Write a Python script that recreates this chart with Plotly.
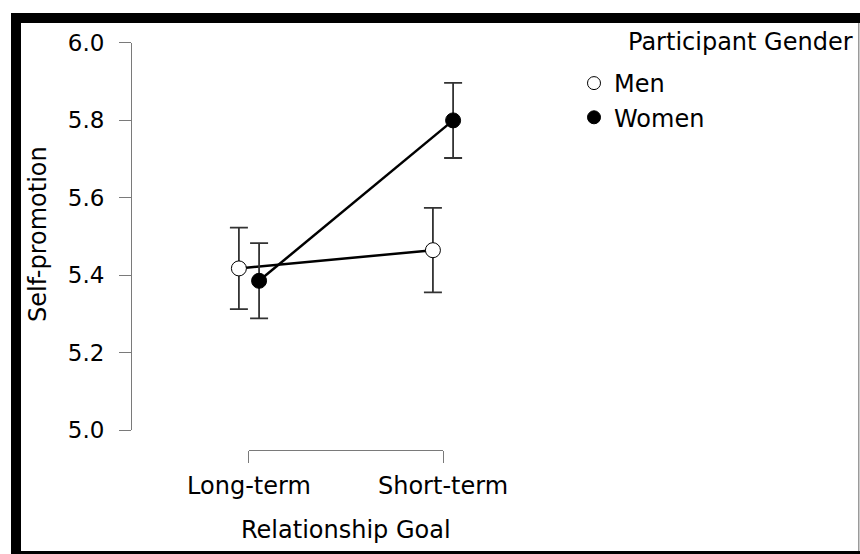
import plotly.graph_objects as go

# Cell means and error-bar half-widths for self-promotion
goals = ["Long-term", "Short-term"]
genders = ["Men", "Women"]
men_mean = [5.417, 5.464]
men_err = [0.105, 0.109]
women_mean = [5.385, 5.799]
women_err = [0.097, 0.097]
y_ticks = [5.0, 5.2, 5.4, 5.6, 5.8, 6.0]

W, H = 860, 554
FONT = "DejaVu Sans"
FS_NUM = 23
FS = 24

# plot area in pixels
px_left, px_right = 132, 560
py_top, py_bottom = 42.5, 430
x_range = [-0.603, 1.603]
dodge = 0.052

x_dom = [px_left / W, px_right / W]
y_dom = [1 - py_bottom / H, 1 - py_top / H]


def x_to_paper(v):
    return x_dom[0] + (v - x_range[0]) / (x_range[1] - x_range[0]) * (x_dom[1] - x_dom[0])


idx = list(range(len(goals)))

fig = go.Figure()

series = [
    ("Men", men_mean, men_err, "white", -dodge),
    ("Women", women_mean, women_err, "black", dodge),
]
for name, mean, err, fill, off in series:
    fig.add_trace(go.Scatter(
        x=[i + off for i in idx], y=mean, mode="lines+markers", name=name,
        showlegend=False, cliponaxis=False,
        line=dict(color="black", width=2.5),
        marker=dict(size=15, color=fill, line=dict(color="black", width=1)),
        error_y=dict(type="data", array=err, visible=True, color="#333333",
                     thickness=1.8, width=9),
    ))

# legend entries show markers only
for name, mean, err, fill, off in series:
    fig.add_trace(go.Scatter(
        x=[None], y=[None], mode="markers", name=name,
        marker=dict(size=13, color=fill, line=dict(color="black", width=1)),
    ))

# empty trace so the category axis (x2) gets drawn
fig.add_trace(go.Scatter(x=[None], y=[None], xaxis="x2", yaxis="y",
                         mode="markers", showlegend=False, hoverinfo="skip"))

shapes = []
# outer frame
frame_rects = [
    (11, 13, 21, 554, "black"),
    (11, 13, 860, 23, "black"),
    (11, 551, 860, 554, "black"),
    (858, 23, 859.5, 551, "#9a9a9a"),
]
for x0, y0, x1, y1, c in frame_rects:
    shapes.append(dict(type="rect", xref="paper", yref="paper",
                       x0=x0 / W, x1=x1 / W, y0=1 - y0 / H, y1=1 - y1 / H,
                       fillcolor=c, line=dict(width=0), layer="above"))

fig.update_layout(
    width=W, height=H,
    margin=dict(l=0, r=0, t=0, b=0, autoexpand=False),
    paper_bgcolor="white", plot_bgcolor="rgba(0,0,0,0)",
    font=dict(family=FONT, size=FS, color="black"),
    xaxis=dict(domain=x_dom, range=x_range, visible=False, fixedrange=True),
    xaxis2=dict(
        domain=[x_to_paper(idx[0]), x_to_paper(idx[-1])],
        range=[idx[0], idx[-1]], anchor="free", position=1 - 450 / H,
        showline=True, linecolor="#7a7a7a", linewidth=1,
        ticks="outside", ticklen=12, tickcolor="#7a7a7a", tickwidth=1,
        tickvals=idx, ticktext=goals, showgrid=False, zeroline=False,
        tickfont=dict(size=FS), ticklabelstandoff=2,
    ),
    yaxis=dict(
        domain=y_dom, range=[5.0, 6.0], showline=True, linecolor="#7a7a7a",
        linewidth=1, ticks="outside", ticklen=12, tickcolor="#7a7a7a",
        tickvals=y_ticks, ticktext=[f"{v:.1f}" for v in y_ticks],
        tickfont=dict(size=FS_NUM),
        showgrid=False, zeroline=False, ticklabelstandoff=10,
    ),
    showlegend=True,
    legend=dict(x=574 / W, y=1 - 61 / H, xanchor="left", yanchor="top",
                font=dict(size=FS), bgcolor="rgba(0,0,0,0)", itemclick=False),
    shapes=shapes,
    annotations=[
        dict(text="Participant Gender", xref="paper", yref="paper",
             x=855 / W, y=1 - 42 / H, xanchor="right", yanchor="middle",
             showarrow=False, font=dict(size=FS)),
        dict(text="Relationship Goal", xref="paper", yref="paper",
             x=x_to_paper(sum(idx) / len(idx)), y=1 - 530 / H,
             xanchor="center", yanchor="middle", showarrow=False,
             font=dict(size=FS)),
        dict(text="Self-promotion", xref="paper", yref="paper",
             x=38 / W, y=1 - 234 / H, xanchor="center", yanchor="middle",
             textangle=-90, showarrow=False, font=dict(size=FS)),
    ],
)

fig.write_html("out.html")
